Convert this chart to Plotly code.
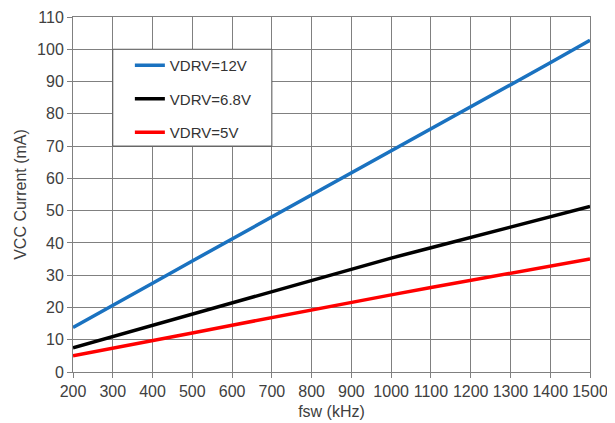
import plotly.graph_objects as go

fsw = [200, 300, 400, 500, 600, 700, 800, 900, 1000, 1100, 1200, 1300, 1400, 1500]
vdrv_12v = [13.8, 20.5, 27.5, 34.4, 41.2, 48.0, 54.8, 61.6, 68.4, 75.2, 82.0, 88.8, 95.8, 102.8]
vdrv_6v8 = [7.5, 11.0, 14.5, 18.0, 21.5, 25.0, 28.5, 32.0, 35.3, 38.5, 41.7, 45.0, 48.2, 51.3]
vdrv_5v = [5.0, 7.3, 9.8, 12.1, 14.5, 16.9, 19.3, 21.6, 23.9, 26.2, 28.4, 30.6, 32.8, 35.0]
names = ["VDRV=12V", "VDRV=6.8V", "VDRV=5V"]
colors = ["#1a72c0", "#000000", "#ff0000"]

x_ticks = list(range(200, 1501, 100))
y_ticks = list(range(0, 111, 10))

fig = go.Figure()
for i, (name, ys, c) in enumerate(zip(names, [vdrv_12v, vdrv_6v8, vdrv_5v], colors)):
    fig.add_trace(go.Scatter(x=fsw, y=ys, mode="lines", name=name,
                             legendgroup=f"g{i}",
                             line=dict(color=c, width=3.5)))

font = "Liberation Sans, Arial, sans-serif"
fig.add_shape(type="rect", xref="x", yref="y", x0=300, x1=700, y0=70, y1=100,
              line=dict(color="#555555", width=1), fillcolor="white", layer="above")

fig.update_layout(
    width=607, height=415,
    margin=dict(l=65, r=25, t=9, b=51),
    paper_bgcolor="white", plot_bgcolor="white",
    font=dict(family=font, size=16, color="#404040"),
    showlegend=True,
    legend=dict(x=0.11, y=0.91, xanchor="left", yanchor="top",
                bgcolor="rgba(0,0,0,0)", borderwidth=0,
                font=dict(family=font, size=15, color="#333333"),
                tracegroupgap=11, traceorder="grouped", itemwidth=30),
    xaxis=dict(range=[200, 1500], tickvals=x_ticks, showgrid=True, automargin=False,
               gridcolor="#808080", gridwidth=1, showline=True, linecolor="#808080",
               mirror=True, ticks="outside", ticklen=5, tickcolor="#808080",
               zeroline=False, tickfont=dict(size=16),
               title=dict(text="fsw (kHz)", standoff=6, font=dict(size=16))),
    yaxis=dict(range=[0, 110], tickvals=y_ticks, showgrid=True, automargin=False,
               gridcolor="#808080", gridwidth=1, showline=True, linecolor="#808080",
               mirror=True, ticks="outside", ticklen=5, tickcolor="#808080",
               zeroline=False, tickfont=dict(size=16),
               title=dict(text="VCC Current (mA)", standoff=6, font=dict(size=16))),
)

fig.write_html("out.html")
